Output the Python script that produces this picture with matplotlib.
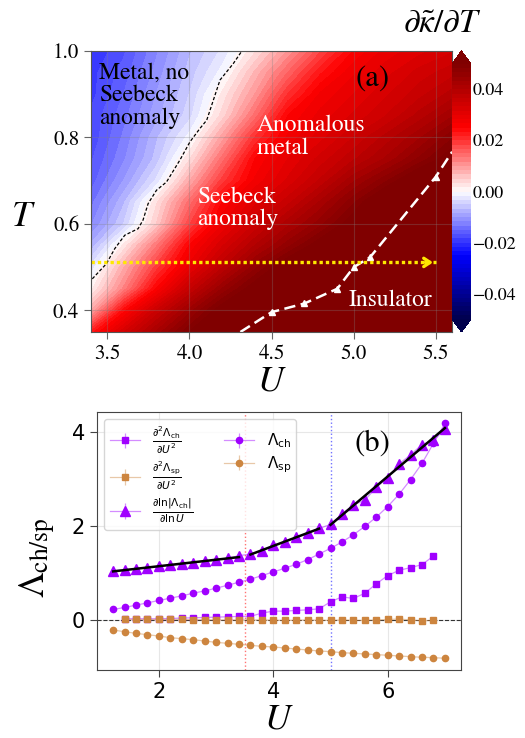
import numpy as np
import matplotlib
matplotlib.use('Agg')
import matplotlib.pyplot as plt
from matplotlib.font_manager import FontProperties

plt.rcParams['font.family'] = 'STIXGeneral'
plt.rcParams['mathtext.fontset'] = 'stix'

# ---------------- panel (a) data ----------------
U_grid = [3.4, 3.6, 3.8, 4.0, 4.2, 4.4, 4.6, 4.8, 5.0, 5.2, 5.4, 5.6]
T_grid = [0.35, 0.40, 0.45, 0.50, 0.55, 0.60, 0.65, 0.70, 0.75, 0.80, 0.85, 0.90, 0.95, 1.00]
dkappa_dT = [
    [0.022, 0.033, 0.042, 0.050, 0.057, 0.062, 0.066, 0.069, 0.070, 0.071, 0.072, 0.072],
    [0.008, 0.024, 0.035, 0.044, 0.052, 0.058, 0.063, 0.066, 0.069, 0.070, 0.071, 0.072],
    [0.001, 0.012, 0.025, 0.036, 0.045, 0.052, 0.058, 0.063, 0.066, 0.069, 0.070, 0.071],
    [-0.003, 0.008, 0.019, 0.029, 0.038, 0.046, 0.053, 0.059, 0.063, 0.066, 0.068, 0.070],
    [-0.008, 0.002, 0.013, 0.025, 0.033, 0.040, 0.046, 0.052, 0.058, 0.062, 0.065, 0.068],
    [-0.012, -0.005, 0.005, 0.018, 0.028, 0.035, 0.041, 0.046, 0.052, 0.058, 0.062, 0.065],
    [-0.014, -0.007, 0.003, 0.014, 0.025, 0.031, 0.036, 0.042, 0.048, 0.055, 0.060, 0.063],
    [-0.016, -0.010, -0.003, 0.008, 0.019, 0.027, 0.032, 0.037, 0.043, 0.048, 0.054, 0.059],
    [-0.017, -0.012, -0.006, 0.003, 0.014, 0.025, 0.030, 0.034, 0.038, 0.042, 0.047, 0.052],
    [-0.018, -0.013, -0.007, -0.001, 0.009, 0.020, 0.027, 0.031, 0.035, 0.039, 0.043, 0.048],
    [-0.018, -0.014, -0.009, -0.004, 0.004, 0.014, 0.025, 0.029, 0.032, 0.035, 0.039, 0.043],
    [-0.019, -0.015, -0.010, -0.005, 0.002, 0.010, 0.020, 0.027, 0.030, 0.033, 0.036, 0.039],
    [-0.019, -0.016, -0.011, -0.006, -0.001, 0.007, 0.015, 0.023, 0.028, 0.031, 0.034, 0.036],
    [-0.020, -0.017, -0.012, -0.007, -0.003, 0.003, 0.010, 0.018, 0.025, 0.029, 0.031, 0.033],
]

# zero line of d kappa / dT (black dashed)
zero_U = [3.408, 3.494, 3.545, 3.606, 3.687, 3.717, 3.748, 3.799, 3.860, 3.942,
          4.003, 4.064, 4.105, 4.145, 4.186, 4.267, 4.319]
zero_T = [0.473, 0.508, 0.543, 0.574, 0.589, 0.609, 0.647, 0.678, 0.697, 0.748,
          0.790, 0.821, 0.840, 0.886, 0.933, 0.971, 1.000]

# metal-insulator line (white dashed, triangles)
mit_U = [4.5, 4.7, 4.9, 5.0, 5.1, 5.5]
mit_T = [0.396, 0.416, 0.450, 0.500, 0.523, 0.709]
mit_line_U = [4.31, 4.5, 4.7, 4.9, 5.0, 5.1, 5.5, 5.6]
mit_line_T = [0.35, 0.396, 0.416, 0.450, 0.500, 0.523, 0.709, 0.767]

# cut at constant T (yellow arrow)
cut_T = 0.511
cut_U = [3.4, 5.5]

# ---------------- panel (b) data ----------------
U_b = [1.2, 1.4, 1.6, 1.8, 2.0, 2.2, 2.4, 2.6, 2.8, 3.0, 3.2, 3.4, 3.6, 3.8, 4.0,
       4.2, 4.4, 4.6, 4.8, 5.0, 5.2, 5.4, 5.6, 5.8, 6.0, 6.2, 6.4, 6.6, 6.8, 7.0]
U_b2 = [1.4, 1.6, 1.8, 2.0, 2.2, 2.4, 2.6, 2.8, 3.0, 3.2, 3.4, 3.6, 3.8, 4.0,
        4.2, 4.4, 4.6, 4.8, 5.0, 5.2, 5.4, 5.6, 5.8, 6.0, 6.2, 6.4, 6.6, 6.8]
lam_ch = [0.232, 0.275, 0.324, 0.373, 0.423, 0.472, 0.521, 0.577, 0.627, 0.683,
          0.746, 0.810, 0.873, 0.951, 1.028, 1.106, 1.190, 1.289, 1.408, 1.528,
          1.662, 1.817, 1.993, 2.190, 2.415, 2.676, 2.986, 3.331, 3.754, 4.176]
lam_sp = [-0.204, -0.239, -0.275, -0.303, -0.331, -0.366, -0.387, -0.408, -0.437, -0.465,
          -0.486, -0.507, -0.528, -0.549, -0.563, -0.585, -0.606, -0.627, -0.648, -0.662,
          -0.683, -0.697, -0.711, -0.725, -0.739, -0.754, -0.768, -0.782, -0.789, -0.803]
dln_ch = [1.056, 1.077, 1.090, 1.120, 1.148, 1.169, 1.190, 1.218, 1.254, 1.280,
          1.317, 1.373, 1.408, 1.465, 1.600, 1.662, 1.760, 1.852, 1.950, 2.035,
          2.260, 2.450, 2.550, 2.820, 3.030, 3.320, 3.510, 3.730, 3.820, 4.050]
d2_ch = [0.035, 0.035, 0.035, 0.035, 0.040, 0.050, 0.056, 0.063, 0.070, 0.077,
         0.085, 0.085, 0.155, 0.197, 0.197, 0.211, 0.225, 0.246, 0.394, 0.500,
         0.465, 0.577, 0.775, 0.951, 1.063, 1.120, 1.183, 1.366]
d2_sp = [0.020, 0.020, 0.020, 0.020, 0.020, 0.020, 0.015, 0.015, 0.010, 0.010,
         0.010, 0.010, 0.010, 0.005, 0.000, 0.005, 0.010, 0.005, 0.000, 0.010,
         0.000, 0.000, 0.010, 0.020, 0.030, 0.010, -0.010, 0.000]
fit_ranges = [(1.2, 3.4), (3.6, 4.8), (5.0, 7.0)]
U_red = 3.5
U_blue = 5.0

purple = '#a000ff'
orange = '#cd853f'

fig = plt.figure(figsize=(5.25, 7.38), dpi=100)

# ---------------- panel (a) ----------------
ax1 = fig.add_axes([0.1733, 0.5501, 0.688, 0.3808])
cax = fig.add_axes([0.861, 0.5501, 0.036, 0.3808])
levels = np.linspace(-0.05, 0.05, 61)
cf = ax1.contourf(U_grid, T_grid, np.array(dkappa_dT), levels=levels,
                  cmap='seismic', extend='both')
cf.set_edgecolor('face')
cf.set_linewidth(0.5)
cb = fig.colorbar(cf, cax=cax, ticks=[-0.04, -0.02, 0.0, 0.02, 0.04])
cb.outline.set_visible(False)
cax.tick_params(length=0, pad=1.5, labelsize=13)

ax1.plot(zero_U, zero_T, color='black', lw=0.9, ls=(0, (2.6, 1.6)))
ax1.plot(mit_line_U, mit_line_T, color='white', lw=1.8, ls=(0, (4.5, 2.2)))
ax1.plot(mit_U, mit_T, ls='none', marker='^', color='white', ms=5)
ax1.plot(cut_U, [cut_T, cut_T], color='#ffe800', lw=2.4, ls=(0, (1, 0.9)))
ax1.annotate('', xy=(cut_U[1], cut_T), xytext=(cut_U[1] - 0.08, cut_T),
             arrowprops=dict(arrowstyle='->,head_length=0.45,head_width=0.3',
                             color='#ffe800', lw=2.4))

ax1.set_xlim(3.4, 5.6)
ax1.set_ylim(0.35, 1.0)
ax1.set_xticks([3.5, 4.0, 4.5, 5.0, 5.5])
ax1.set_yticks([0.4, 0.6, 0.8, 1.0])
ax1.grid(True, color='gray', alpha=0.3, lw=0.8)
ax1.tick_params(labelsize=15, length=5, color='#666666', direction='out')
for s in ax1.spines.values():
    s.set_color('#555555')

ax1.set_xlabel('$U$', fontsize=26, labelpad=1)
ax1.set_ylabel('$T$', fontsize=26, rotation=0, va='center', ha='center')
ax1.yaxis.set_label_coords(-0.188, 0.409)

ax1.text(3.447, 0.975, 'Metal, no\nSeebeck\nanomaly', fontsize=17, color='black',
         ha='left', va='top', linespacing=1.08)
ax1.text(4.412, 0.852, 'Anomalous\nmetal', fontsize=17, color='white',
         ha='left', va='top', linespacing=1.08)
ax1.text(4.046, 0.687, 'Seebeck\nanomaly', fontsize=17, color='white',
         ha='left', va='top', linespacing=1.08)
ax1.text(4.97, 0.447, 'Insulator', fontsize=17, color='white', ha='left', va='top')
ax1.text(5.115, 0.935, '(a)', fontsize=22, color='black', ha='center', va='center')

fig.text(442 / 525, 1 - 25 / 738, r'$\partial\tilde{\kappa}/\partial T$',
         fontsize=24, ha='center', va='center')

# ---------------- panel (b) ----------------
ax2 = fig.add_axes([0.184, 0.0921, 0.695, 0.350])
pl = (0.627, 0.0, 1.0, 0.45)
ol = (0.804, 0.522, 0.247, 0.45)

h_d2ch = ax2.errorbar(U_b2, d2_ch, yerr=0.0, fmt='-s', color=pl, mfc=purple, mec=purple,
                      ms=4.5, lw=0.9, label=r'$\frac{\partial^2\Lambda_{\rm ch}}{\partial U^2}$')
h_d2sp = ax2.errorbar(U_b2, d2_sp, yerr=0.0, fmt='-s', color=ol, mfc=orange, mec=orange,
                      ms=4.5, lw=0.9, label=r'$\frac{\partial^2\Lambda_{\rm sp}}{\partial U^2}$')
h_dln = ax2.errorbar(U_b, dln_ch, yerr=0.0, fmt='-^', color=pl, mfc=purple, mec=purple,
                     ms=7, lw=0.9, label=r'$\frac{\partial \ln|\Lambda_{\rm ch}|}{\partial \ln U}$')
h_ch = ax2.errorbar(U_b, lam_ch, yerr=0.0, fmt='-o', color=pl, mfc=purple, mec=purple,
                    ms=4.5, lw=0.9, label=r'$\Lambda_{\rm ch}$')
h_sp = ax2.errorbar(U_b, lam_sp, yerr=0.0, fmt='-o', color=ol, mfc=orange, mec=orange,
                    ms=4.5, lw=0.9, label=r'$\Lambda_{\rm sp}$')

Ub_arr = np.array(U_b)
dln_arr = np.array(dln_ch)
for lo, hi in fit_ranges:
    m = (Ub_arr >= lo - 1e-9) & (Ub_arr <= hi + 1e-9)
    p = np.polyfit(Ub_arr[m], dln_arr[m], 1)
    xx = np.array([lo, hi])
    ax2.plot(xx, np.polyval(p, xx), color='black', lw=1.8, zorder=5)

ax2.axvline(U_red, color='#ff5050', lw=1.0, ls=':', alpha=0.8)
ax2.axvline(U_blue, color='#5050ff', lw=1.0, ls=':', alpha=0.8)
ax2.axhline(0, color='#333333', lw=0.8, ls='--')

ax2.set_xticks([2, 4, 6])
ax2.set_yticks([0, 2, 4])
ax2.grid(True, color='#b0b0b0', alpha=0.3, lw=0.8)
ax2.set_axisbelow(True)
ax2.tick_params(labelsize=15, labelfontfamily='DejaVu Sans', length=5,
                color='#444444', direction='out')
for s in ax2.spines.values():
    s.set_color('#444444')

ax2.set_xlabel('$U$', fontsize=26, labelpad=1)
ax2.set_ylabel(r'$\Lambda_{\rm ch/sp}$', fontsize=26, va='center')
ax2.yaxis.set_label_coords(-0.16, 0.434)
ax2.text(5.73, 3.74, '(b)', fontsize=22, ha='center', va='center')

leg_prop = FontProperties(family='DejaVu Sans', size=11, math_fontfamily='dejavusans')
ax2.legend(handles=[h_d2ch, h_d2sp, h_dln, h_ch, h_sp], ncol=2, loc='upper left',
           prop=leg_prop, handlelength=2.0, columnspacing=2.0, borderpad=0.35,
           labelspacing=0.25)

fig.savefig('out.png', dpi=100)
